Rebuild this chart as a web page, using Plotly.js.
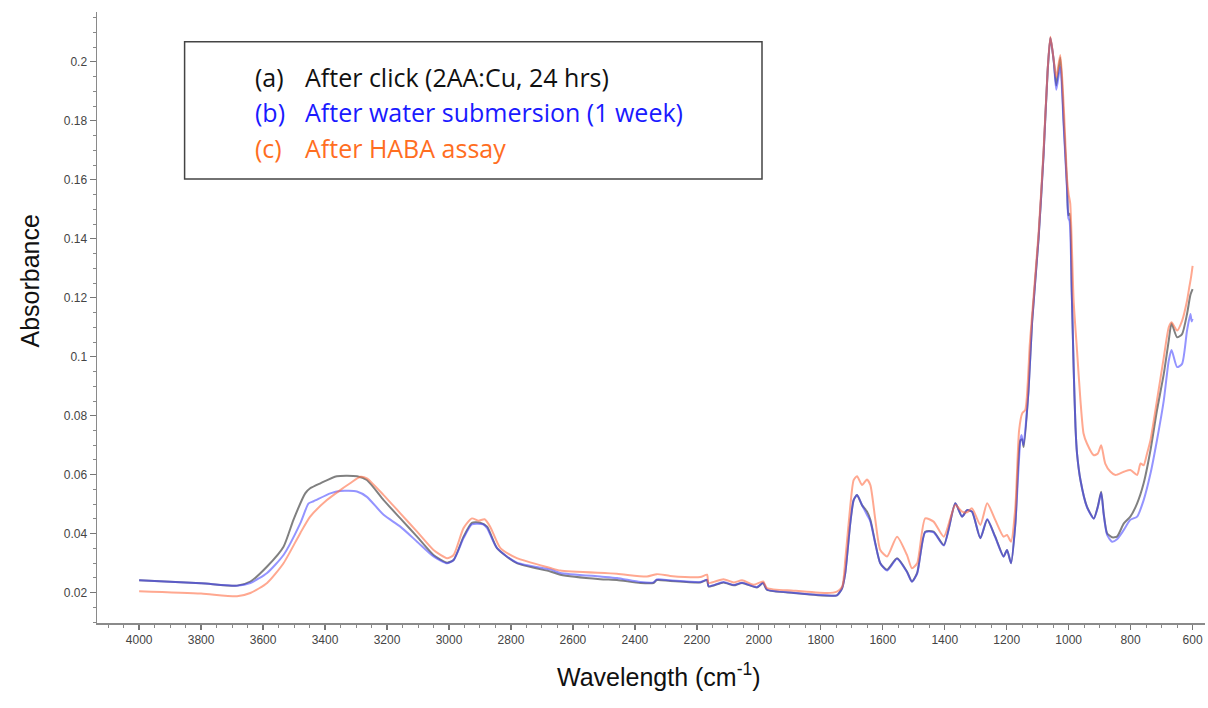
<!DOCTYPE html>
<html>
<head>
<meta charset="utf-8">
<script src="https://cdn.plot.ly/plotly-3.0.1.min.js"></script>
<style>html,body{margin:0;padding:0;background:#fff;}#chart{width:1208px;height:708px;}</style>
</head>
<body>
<div id="chart"></div>
<script>
// ---- Data ----
const seriesNames = ["(a)  After click (2AA:Cu, 24 hrs)", "(b)  After water submersion (1 week)", "(c)  After HABA assay"];

const wnA = [4000,3800,3684,3641,3587,3534,3502,3464,3448,3415,3362,3297,3265,3211,3157,3103,3050,3006,2985,2953,2926,2899,2877,2845,2781,2673,2641,2512,2458,2382,2340,2329,2286,2189,2167,2162,2114,2081,2054,2006,1986,1974,1888,1780,1748,1731,1721,1705,1694,1683,1667,1651,1640,1624,1608,1586,1554,1522,1506,1489,1463,1436,1403,1366,1344,1328,1312,1285,1263,1237,1210,1199,1186,1172,1156,1150,1145,1130,1118,1097,1081,1068,1059,1048,1040,1027,1016,1005,1001,997,990,984,978,973,962,941,919,906,895,887,876,860,844,822,801,779,758,736,715,693,677,668,650,634,618,607,600];
const absA = [0.0242,0.0232,0.0224,0.0238,0.0289,0.0356,0.0447,0.0537,0.0554,0.0571,0.0595,0.0595,0.0582,0.0514,0.0452,0.0390,0.0328,0.0302,0.0311,0.0390,0.0437,0.0437,0.0424,0.0351,0.0300,0.0272,0.0261,0.0246,0.0243,0.0233,0.0233,0.0243,0.0240,0.0235,0.0243,0.0221,0.0235,0.0225,0.0233,0.0218,0.0233,0.0210,0.0199,0.0190,0.0191,0.0216,0.0267,0.0435,0.0514,0.0531,0.0497,0.0475,0.0447,0.0368,0.0300,0.0278,0.0317,0.0272,0.0238,0.0267,0.0407,0.0407,0.0362,0.0503,0.0458,0.0480,0.0475,0.0385,0.0447,0.0390,0.0323,0.0345,0.0300,0.0435,0.0717,0.0720,0.0694,0.0880,0.1118,0.1404,0.1686,0.1967,0.2082,0.2001,0.1920,0.2015,0.1798,0.1573,0.1480,0.1485,0.1220,0.0965,0.0762,0.0672,0.0582,0.0492,0.0452,0.0492,0.0542,0.0469,0.0402,0.0388,0.0390,0.0435,0.0458,0.0503,0.0571,0.0683,0.0818,0.0942,0.1055,0.1113,0.1066,0.1077,0.1145,0.1210,0.1229];

const wnB = [4000,3800,3684,3641,3587,3534,3480,3453,3437,3383,3351,3297,3265,3211,3157,3103,3050,3006,2985,2953,2926,2890,2877,2845,2781,2673,2641,2512,2458,2382,2340,2329,2286,2189,2167,2162,2114,2081,2054,2006,1986,1974,1888,1780,1748,1731,1721,1705,1694,1683,1667,1651,1640,1624,1608,1586,1554,1522,1506,1489,1463,1436,1403,1366,1344,1328,1312,1285,1263,1237,1210,1199,1186,1172,1156,1152,1146,1130,1118,1097,1081,1068,1059,1048,1040,1027,1016,1005,1001,997,990,984,978,973,962,941,919,906,895,887,876,860,844,822,801,779,758,736,715,693,677,668,650,634,618,607,603,600];
const absB = [0.0242,0.0232,0.0224,0.0233,0.0267,0.0328,0.0435,0.0503,0.0510,0.0537,0.0545,0.0543,0.0525,0.0464,0.0424,0.0373,0.0323,0.0300,0.0311,0.0385,0.0432,0.0432,0.0419,0.0351,0.0302,0.0279,0.0267,0.0255,0.0250,0.0236,0.0235,0.0245,0.0242,0.0236,0.0244,0.0222,0.0236,0.0226,0.0234,0.0219,0.0234,0.0211,0.0200,0.0191,0.0191,0.0216,0.0267,0.0435,0.0514,0.0531,0.0497,0.0464,0.0442,0.0365,0.0300,0.0275,0.0315,0.0270,0.0237,0.0265,0.0405,0.0405,0.0360,0.0503,0.0458,0.0480,0.0475,0.0385,0.0450,0.0388,0.0322,0.0345,0.0300,0.0435,0.0717,0.0735,0.0700,0.0880,0.1118,0.1404,0.1686,0.1967,0.2082,0.2001,0.1905,0.1984,0.1780,0.1560,0.1470,0.1460,0.1220,0.0965,0.0762,0.0672,0.0582,0.0490,0.0451,0.0490,0.0539,0.0465,0.0396,0.0373,0.0381,0.0413,0.0447,0.0458,0.0514,0.0604,0.0717,0.0852,0.0987,0.1023,0.0965,0.0976,0.1089,0.1145,0.1120,0.1128];

const wnC = [4000,3800,3684,3641,3587,3534,3480,3448,3394,3351,3319,3286,3265,3211,3157,3103,3050,3006,2985,2953,2926,2905,2885,2867,2834,2781,2673,2641,2458,2361,2329,2286,2189,2167,2162,2114,2081,2054,2017,1986,1974,1888,1780,1748,1731,1721,1705,1694,1683,1667,1651,1640,1624,1608,1586,1554,1522,1506,1489,1463,1436,1403,1366,1344,1328,1312,1285,1263,1237,1210,1199,1186,1172,1160,1150,1140,1125,1097,1081,1068,1059,1048,1040,1027,1016,1005,1000,995,984,973,962,952,941,919,906,895,882,865,849,822,801,779,768,758,747,736,715,693,677,668,650,634,618,610,605,600];
const absC = [0.0205,0.0197,0.0188,0.0199,0.0233,0.0300,0.0402,0.0458,0.0514,0.0548,0.0571,0.0593,0.0588,0.0531,0.0469,0.0407,0.0345,0.0317,0.0328,0.0419,0.0452,0.0444,0.0449,0.0424,0.0351,0.0317,0.0284,0.0275,0.0264,0.0255,0.0263,0.0257,0.0253,0.0261,0.0233,0.0246,0.0235,0.0242,0.0227,0.0238,0.0216,0.0207,0.0199,0.0204,0.0220,0.0311,0.0492,0.0582,0.0595,0.0565,0.0584,0.0565,0.0447,0.0345,0.0323,0.0390,0.0328,0.0283,0.0300,0.0452,0.0441,0.0390,0.0497,0.0475,0.0473,0.0486,0.0430,0.0503,0.0447,0.0390,0.0396,0.0373,0.0492,0.0750,0.0808,0.0820,0.1050,0.1420,0.1700,0.1970,0.2085,0.2005,0.1948,0.2023,0.1850,0.1600,0.1550,0.1520,0.1190,0.1021,0.0852,0.0740,0.0706,0.0666,0.0672,0.0700,0.0638,0.0610,0.0599,0.0610,0.0616,0.0599,0.0638,0.0632,0.0672,0.0717,0.0852,0.0998,0.1100,0.1117,0.1089,0.1122,0.1190,0.1240,0.1270,0.1308];

const xTitle = "Wavelength (cm<sup>-1</sup>)";
const yTitle = "Absorbance";

// ---- Plot ----
const L = 97, R = 1205, T = 12, B = 623;
const W = R - L, H = B - T;
const px = x => (x - L) / W;
const py = y => 1 - (y - T) / H;

const lineStyle = [
  {color: 'rgba(85,85,85,0.75)', width: 2},
  {color: 'rgba(60,60,255,0.55)', width: 2},
  {color: 'rgba(255,110,70,0.6)', width: 2}
];
const xs = [wnA, wnB, wnC], ys = [absA, absB, absC];
const traces = xs.map((x, i) => ({
  x: x, y: ys[i], type: 'scatter', mode: 'lines', name: seriesNames[i],
  line: Object.assign({shape: 'spline', smoothing: 0.6}, lineStyle[i]),
  hoverinfo: 'x+y', showlegend: false
}));

const legendColors = ['#111111', '#1a1aff', '#ff6e1f'];
const legendTags = ['(a)', '(b)', '(c)'];
const legendTexts = ['After click (2AA:Cu, 24 hrs)', 'After water submersion (1 week)', 'After HABA assay'];
const legendYs = [76.7, 111.7, 148.3];

const annotations = [];
legendTags.forEach((t, i) => {
  annotations.push({xref: 'paper', yref: 'paper', x: px(253), y: py(legendYs[i]), xanchor: 'left', yanchor: 'middle', showarrow: false, text: t, font: {family: 'Open Sans, sans-serif', size: 25, color: legendColors[i]}});
  annotations.push({xref: 'paper', yref: 'paper', x: px(302.5), y: py(legendYs[i]), xanchor: 'left', yanchor: 'middle', showarrow: false, text: legendTexts[i], font: {family: 'Open Sans, sans-serif', size: 25, color: legendColors[i]}});
});
annotations.push({xref: 'paper', yref: 'paper', x: px(29), y: py(281.5), xanchor: 'center', yanchor: 'middle', textangle: -90, showarrow: false, text: yTitle, font: {family: 'Liberation Sans, Arial, sans-serif', size: 25, color: '#111'}});
annotations.push({xref: 'paper', yref: 'paper', x: px(659), y: py(675), xanchor: 'center', yanchor: 'middle', showarrow: false, text: xTitle, font: {family: 'Liberation Sans, Arial, sans-serif', size: 25, color: '#111'}});

const layout = {
  width: 1208, height: 708,
  margin: {l: L, r: 1208 - R, t: T, b: 708 - B},
  paper_bgcolor: '#ffffff', plot_bgcolor: '#ffffff',
  font: {family: 'Liberation Sans, Arial, sans-serif', size: 12, color: '#444'},
  xaxis: {
    range: [4136, 560], tick0: 0, dtick: 200, showgrid: false, zeroline: false,
    showline: true, linecolor: '#8a8a8a', linewidth: 1.5,
    ticks: 'outside', ticklen: 5, tickwidth: 1.3, tickcolor: '#777',
    tickfont: {size: 12, color: '#444'},
    minor: {dtick: 50, tick0: 0, ticks: 'outside', ticklen: 3, tickcolor: '#888', tickwidth: 1, showgrid: false}
  },
  yaxis: {
    range: [0.00973, 0.2169], tick0: 0, dtick: 0.02, showgrid: false, zeroline: false,
    showline: true, linecolor: '#8a8a8a', linewidth: 1.5,
    ticks: 'outside', ticklen: 6, tickwidth: 1.3, tickcolor: '#777',
    tickfont: {size: 12, color: '#444'},
    minor: {dtick: 0.005, tick0: 0, ticks: 'outside', ticklen: 3, tickcolor: '#888', tickwidth: 1, showgrid: false}
  },
  shapes: [{type: 'rect', xref: 'paper', yref: 'paper', x0: px(184.6), x1: px(762), y0: py(179), y1: py(41.7), line: {color: '#444', width: 1.5}, fillcolor: 'rgba(255,255,255,0)'}],
  annotations: annotations,
  showlegend: false
};

Plotly.newPlot('chart', traces, layout, {displayModeBar: false, staticPlot: true});
</script>
</body>
</html>
